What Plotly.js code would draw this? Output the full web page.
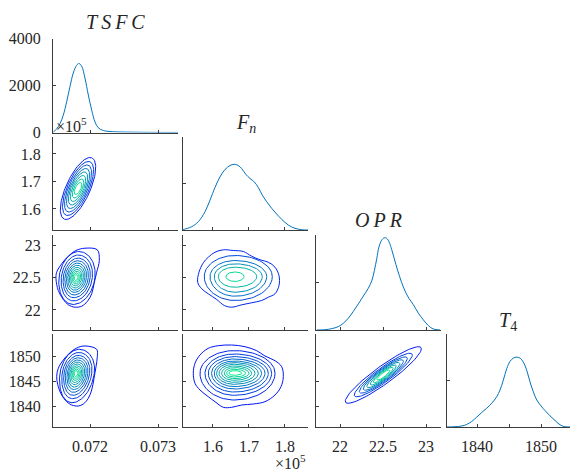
<!DOCTYPE html>
<html><head><meta charset="utf-8">
<script src="https://cdn.plot.ly/plotly-3.0.1.min.js"></script>
<style>html,body{margin:0;padding:0;background:#fff}#chart{width:570px;height:473px}</style>
</head><body><div id="chart"></div>
<script>
// ---------- variable ranges and ticks ----------
const tsfcRange = [0.071456, 0.073294];
const fnRange = [1.5167, 1.8639];
const fnRowRange = [1.5236, 1.8618];
const oprRange = [21.721, 23.174];
const oprRowRange = [21.692, 23.154];
const t4Range = [1835.31, 1854.53];
const t4RowRange = [1835.8, 1854.4];
const densTsfcRange = [0, 4000];
const densRange = [0, 2];

const tsfcTicks = [0.072, 0.073], tsfcTickText = ['0.072', '0.073'];
const fnTicks = [1.6, 1.7, 1.8], fnTickText = ['1.6', '1.7', '1.8'];
const oprTicks = [22, 22.5, 23], oprTickText = ['22', '22.5', '23'];
const t4Ticks = [1840, 1845, 1850], t4TickText = ['1840', '1845', '1850'];
const t4DiagTicks = [1840, 1850], t4DiagTickText = ['1840', '1850'];
const t4DiagMinorTicks = [1845];
const densTsfcTicks = [0, 2000, 4000], densTsfcTickText = ['0', '2000', '4000'];
const densTicks = [0, 1, 2], densTickText = ['0', '1', '2'];

// ---------- marginal densities ----------
const tsfcKdeX = [0.071456, 0.071460, 0.071510, 0.071559, 0.071607, 0.071657, 0.071706, 0.071754, 0.071804, 0.071838, 0.071878, 0.071926, 0.071975, 0.072025, 0.072074, 0.072122, 0.072196, 0.072294, 0.072637, 0.073294];
const tsfcKdeY = [10, 13, 158, 374, 733, 1309, 1956, 2532, 2863, 2934, 2820, 2316, 1597, 950, 446, 201, 86, 43, 13, 2];

const fnKdeX = [1.5167, 1.5203, 1.5408, 1.5592, 1.5778, 1.5917, 1.6056, 1.6194, 1.6333, 1.6472, 1.6592, 1.6703, 1.6797, 1.6908, 1.7028, 1.7147, 1.7258, 1.7369, 1.7492, 1.7631, 1.7769, 1.7908, 1.8092, 1.8278, 1.8464, 1.8639];
const fnKdeY = [0.008, 0.015, 0.071, 0.178, 0.392, 0.643, 0.915, 1.142, 1.30, 1.386, 1.414, 1.386, 1.322, 1.20, 1.108, 1.035, 0.915, 0.75, 0.607, 0.465, 0.343, 0.229, 0.107, 0.036, 0.006, 0.0];

const oprKdeX = [21.729, 21.826, 21.903, 21.980, 22.038, 22.097, 22.155, 22.213, 22.271, 22.329, 22.369, 22.399, 22.427, 22.453, 22.485, 22.515, 22.543, 22.570, 22.601, 22.631, 22.671, 22.717, 22.756, 22.802, 22.852, 22.910, 22.969, 23.027, 23.085, 23.163];
const oprKdeY = [0.0, 0.006, 0.028, 0.071, 0.141, 0.249, 0.392, 0.549, 0.714, 0.879, 1.035, 1.249, 1.50, 1.749, 1.892, 1.941, 1.929, 1.856, 1.693, 1.50, 1.249, 0.999, 0.821, 0.664, 0.536, 0.356, 0.214, 0.092, 0.021, 0.0];

const t4KdeX = [1835.31, 1836.56, 1837.61, 1838.39, 1839.17, 1839.95, 1840.73, 1841.52, 1842.30, 1843.08, 1843.59, 1844.11, 1844.64, 1845.16, 1845.67, 1846.20, 1846.72, 1847.23, 1847.77, 1848.28, 1848.80, 1849.33, 1850.0, 1850.63, 1851.41, 1852.19, 1852.81, 1853.48, 1854.53];
const t4KdeY = [0.0, 0.006, 0.021, 0.055, 0.119, 0.213, 0.311, 0.404, 0.511, 0.651, 0.794, 1.006, 1.255, 1.411, 1.481, 1.502, 1.481, 1.396, 1.219, 0.970, 0.757, 0.581, 0.453, 0.353, 0.240, 0.140, 0.064, 0.013, 0.0];

// ---------- joint density contours (outer contours traced, inner contours as centre + extents) ----------
// TSFC vs Fn (x1e5)
const tsfcFnCenter = [0.071824, 1.6746];
const tsfcFnHalfX = [0.000191, 0.000169, 0.000147, 0.000126, 0.000106, 0.0000853, 0.0000647, 0.0000441];
const tsfcFnHalfY = [0.1127, 0.0982, 0.0855, 0.0727, 0.0600, 0.0473, 0.0345, 0.0218];
const tsfcFnShear = 0.001566;

// TSFC vs OPR
const tsfcOprOuterX = [0.0719265, 0.0721074, 0.0721368, 0.0720985, 0.0720588, 0.0720250, 0.0719603, 0.0718779, 0.0717794, 0.0716809, 0.0716074, 0.0715338, 0.0715000, 0.0715103, 0.0715838, 0.0716809, 0.0717941];
const tsfcOprOuterY = [22.9508, 22.9262, 22.7615, 22.5815, 22.4031, 22.2492, 22.1308, 22.0585, 22.0431, 22.0800, 22.1615, 22.3000, 22.4800, 22.5815, 22.7108, 22.8277, 22.9154];
const tsfcOprCenter = [0.071794, 22.5];
const tsfcOprLeft = [0.000250, 0.000216, 0.000187, 0.000162, 0.000138, 0.000118, 0.0000971, 0.0000779, 0.0000603, 0.0000441, 0.0000279];
const tsfcOprRight = [0.000279, 0.000241, 0.000209, 0.000181, 0.000154, 0.000131, 0.000109, 0.0000868, 0.0000676, 0.0000485, 0.0000309];
const tsfcOprUp = [0.400, 0.346, 0.298, 0.258, 0.222, 0.188, 0.155, 0.125, 0.097, 0.071, 0.045];
const tsfcOprDown = [0.415, 0.360, 0.311, 0.269, 0.229, 0.195, 0.162, 0.129, 0.100, 0.074, 0.046];
const tsfcOprShear = 0.0001;

// TSFC vs T4
const tsfcT4OuterX = [0.0719412, 0.0720985, 0.0721074, 0.0720882, 0.0720588, 0.0720250, 0.0719750, 0.0719015, 0.0718279, 0.0717309, 0.0716574, 0.0715838, 0.0715338, 0.0715103, 0.0715338, 0.0716074, 0.0717059, 0.0718279];
const tsfcT4OuterY = [1852.0, 1851.34, 1849.86, 1847.86, 1845.54, 1843.2, 1841.54, 1840.4, 1840.0, 1840.2, 1840.86, 1842.2, 1843.86, 1845.86, 1847.54, 1849.2, 1850.66, 1851.74];
const tsfcT4Center = [0.071794, 1846.54];
const tsfcT4Left = [0.000235, 0.000203, 0.000176, 0.000153, 0.000129, 0.000110, 0.0000912, 0.0000735, 0.0000574, 0.0000412, 0.0000265];
const tsfcT4Right = [0.000269, 0.000232, 0.000201, 0.000174, 0.000149, 0.000126, 0.000104, 0.0000838, 0.0000647, 0.0000471, 0.0000294];
const tsfcT4Up = [4.8, 4.16, 3.58, 3.1, 2.66, 2.26, 1.86, 1.5, 1.16, 0.84, 0.54];
const tsfcT4Down = [5.88, 5.08, 4.4, 3.8, 3.26, 2.76, 2.28, 1.84, 1.42, 1.04, 0.66];
const tsfcT4Shear = 0.00001;

// Fn vs OPR
const fnOprOuterX = [1.6286, 1.6564, 1.6842, 1.7075, 1.7306, 1.7536, 1.7722, 1.7833, 1.7833, 1.7722, 1.7536, 1.7353, 1.7075, 1.6797, 1.6519, 1.6314, 1.6103, 1.5869, 1.5686, 1.5575, 1.5611, 1.5731, 1.5869, 1.6056];
const fnOprOuterY = [22.9262, 22.9154, 22.9, 22.8277, 22.7723, 22.7354, 22.6585, 22.5308, 22.3769, 22.2492, 22.1969, 22.1462, 22.1108, 22.08, 22.0431, 22.0692, 22.1615, 22.2492, 22.3262, 22.4277, 22.5815, 22.7262, 22.8123, 22.8892];
const fnOprCenter = [1.6611, 22.5154];
const fnOprLeft = [0.0853, 0.0694, 0.0575, 0.0464, 0.025];
const fnOprRight = [0.1036, 0.0881, 0.0758, 0.0603, 0.025];
const fnOprUp = [0.323, 0.246, 0.195, 0.143, 0.069];
const fnOprDown = [0.369, 0.303, 0.242, 0.165, 0.077];

// Fn vs T4
const fnT4OuterX = [1.6519, 1.6889, 1.7214, 1.7444, 1.7722, 1.7908, 1.7953, 1.7889, 1.7722, 1.7444, 1.7119, 1.6797, 1.6519, 1.6286, 1.6056, 1.5869, 1.5639, 1.55, 1.5453, 1.55, 1.5639, 1.5869, 1.6147];
const fnT4OuterY = [1852.2, 1851.86, 1851.06, 1850.0, 1849.06, 1847.86, 1845.86, 1843.86, 1842.2, 1840.86, 1840.4, 1840.2, 1839.74, 1839.74, 1840.86, 1841.86, 1843.2, 1844.54, 1846.54, 1848.54, 1850.2, 1851.54, 1852.06];
const fnT4Center = [1.6592, 1846.54];
const fnT4Left = [0.0953, 0.0814, 0.0722, 0.0631, 0.0556, 0.0492, 0.0425, 0.0353, 0.0278, 0.0214, 0.0147];
const fnT4Right = [0.1131, 0.1036, 0.0944, 0.0853, 0.0758, 0.0667, 0.0575, 0.0481, 0.0408, 0.0314, 0.0203];
const fnT4Up = [4.54, 3.86, 3.34, 2.86, 2.46, 2.14, 1.8, 1.46, 1.14, 0.8, 0.54];
const fnT4Down = [5.34, 4.4, 3.74, 3.14, 2.66, 2.2, 1.8, 1.4, 1.06, 0.74, 0.4];

// OPR vs T4
const oprT4Center = [22.5035, 1846.2];
const oprT4HalfX = [0.442, 0.337, 0.279, 0.233, 0.192, 0.151, 0.116, 0.0756];
const oprT4HalfY = [2.16, 1.76, 1.5, 1.3, 1.1, 0.9, 0.7, 0.5];
const oprT4Slope = 11.83;

// ---------- drawing ----------
const KDE_COLOR = '#0072BD';
const AX_COLOR = '#3c3c3c';
const TXT_COLOR = '#262626';
const SERIF = 'Liberation Serif, Times New Roman, serif';

function winter(t) {
  return 'rgb(0,' + Math.round(255 * t) + ',' + Math.round(255 * (1 - t / 2)) + ')';
}
function ringPath(c, L, R, T, B, sx, sy) {
  const xs = [], ys = [];
  const n = 96;
  for (let i = 0; i <= n; i++) {
    const a = i / n * 2 * Math.PI;
    const u = Math.cos(a), v = Math.sin(a);
    const dx = u >= 0 ? R * u : L * u;
    const dy = v >= 0 ? T * v : B * v;
    xs.push(c[0] + dx + sx * dy);
    ys.push(c[1] + dy + sy * dx);
  }
  return [xs, ys];
}
const traces = [];
function ax(p, k) { return p === 1 ? k : k + p; }
function addLine(p, xs, ys, color, spline) {
  traces.push({type: 'scatter', mode: 'lines', x: xs, y: ys, xaxis: ax(p, 'x'), yaxis: ax(p, 'y'),
    line: {color: color, width: 1, shape: spline ? 'spline' : 'linear', smoothing: 1}, hoverinfo: 'skip'});
}
function closeArr(a) { return a.concat([a[0]]); }

// diagonal densities
addLine(1, tsfcKdeX, tsfcKdeY, KDE_COLOR, true);
addLine(3, fnKdeX, fnKdeY, KDE_COLOR, true);
addLine(6, oprKdeX, oprKdeY, KDE_COLOR, true);
addLine(10, t4KdeX, t4KdeY, KDE_COLOR, true);

// contour panels
function addRings(p, outer, c, Ls, Rs, Ts, Bs, sx, sy) {
  const total = Ls.length + (outer ? 1 : 0);
  let k = 0;
  if (outer) {
    addLine(p, closeArr(outer[0]), closeArr(outer[1]), winter(1 / (total + 1)), true);
    k = 1;
  }
  for (let i = 0; i < Ls.length; i++, k++) {
    const r = ringPath(c, Ls[i], Rs[i], Ts[i], Bs[i], sx, sy);
    addLine(p, r[0], r[1], winter((k + 1) / (total + 1)), false);
  }
}
addRings(2, null, tsfcFnCenter, tsfcFnHalfX, tsfcFnHalfX, tsfcFnHalfY, tsfcFnHalfY, tsfcFnShear, 0);
addRings(4, [tsfcOprOuterX, tsfcOprOuterY], tsfcOprCenter, tsfcOprLeft, tsfcOprRight, tsfcOprUp, tsfcOprDown, tsfcOprShear, 0);
addRings(7, [tsfcT4OuterX, tsfcT4OuterY], tsfcT4Center, tsfcT4Left, tsfcT4Right, tsfcT4Up, tsfcT4Down, tsfcT4Shear, 0);
addRings(5, [fnOprOuterX, fnOprOuterY], fnOprCenter, fnOprLeft, fnOprRight, fnOprUp, fnOprDown, 0, 0);
addRings(8, [fnT4OuterX, fnT4OuterY], fnT4Center, fnT4Left, fnT4Right, fnT4Up, fnT4Down, 0, 0);
addRings(9, null, oprT4Center, oprT4HalfX, oprT4HalfX, oprT4HalfY, oprT4HalfY, 0, oprT4Slope);

// layout
const W = 570, H = 473;
const colPx = [[53, 178], [183, 308], [316, 441], [447, 570]];
const rowPx = [[38.5, 132.5], [137, 230], [235, 330], [334, 427]];
const colDom = colPx.map(c => [c[0] / W, c[1] / W]);
const rowDom = rowPx.map(r => [1 - r[1] / H, 1 - r[0] / H]);

const xSpec = [
  {range: tsfcRange, tv: tsfcTicks, tt: tsfcTickText},
  {range: fnRange, tv: fnTicks, tt: fnTickText},
  {range: oprRange, tv: oprTicks, tt: oprTickText},
  {range: t4Range, tv: t4DiagTicks, tt: t4DiagTickText, minor: t4DiagMinorTicks}
];
const ySpec = [
  null,
  {range: fnRowRange, tv: fnTicks, tt: fnTickText},
  {range: oprRowRange, tv: oprTicks, tt: oprTickText},
  {range: t4RowRange, tv: t4Ticks, tt: t4TickText}
];
const panels = [
  [1, 0, 0], [2, 1, 0], [3, 1, 1], [4, 2, 0], [5, 2, 1], [6, 2, 2], [7, 3, 0], [8, 3, 1], [9, 3, 2], [10, 3, 3]
];
const layout = {
  width: W, height: H, margin: {l: 0, r: 0, t: 0, b: 0},
  paper_bgcolor: '#ffffff', plot_bgcolor: 'rgba(0,0,0,0)', showlegend: false,
  font: {family: SERIF, size: 16, color: TXT_COLOR},
  annotations: []
};
const baseAxis = {
  showline: true, linecolor: AX_COLOR, linewidth: 1, ticks: 'inside', ticklen: 3,
  tickcolor: AX_COLOR, tickwidth: 1, showgrid: false, zeroline: false, fixedrange: true,
  tickmode: 'array', tickfont: {family: SERIF, size: 16, color: TXT_COLOR}
};
panels.forEach(([p, r, c]) => {
  const xs = xSpec[c];
  const xa = Object.assign({}, baseAxis, {
    domain: colDom[c], range: xs.range, tickvals: xs.tv, ticktext: xs.tt,
    anchor: ax(p, 'y'), showticklabels: r === 3, ticklabelstandoff: 5
  });
  if (xs.minor && r === c) {
    xa.minor = {tickmode: 'array', tickvals: xs.minor, ticks: 'inside', ticklen: 3, tickcolor: AX_COLOR, tickwidth: 1, showgrid: false};
  } else if (c === 3) {
    xa.tickvals = t4Ticks; xa.ticktext = t4TickText;
  }
  let ya;
  if (r === c) {
    const isFirst = r === 0;
    ya = Object.assign({}, baseAxis, {
      domain: rowDom[r], range: isFirst ? densTsfcRange : densRange,
      tickvals: isFirst ? densTsfcTicks : densTicks,
      ticktext: isFirst ? densTsfcTickText : densTickText,
      anchor: ax(p, 'x'), showticklabels: isFirst, ticklabelstandoff: 8
    });
  } else {
    const ys = ySpec[r];
    ya = Object.assign({}, baseAxis, {
      domain: rowDom[r], range: ys.range, tickvals: ys.tv, ticktext: ys.tt,
      anchor: ax(p, 'x'), showticklabels: c === 0, ticklabelstandoff: 8
    });
  }
  layout[p === 1 ? 'xaxis' : 'xaxis' + p] = xa;
  layout[p === 1 ? 'yaxis' : 'yaxis' + p] = ya;
});

function note(text, xpx, ypx, size, xanchor) {
  layout.annotations.push({
    text: text, xref: 'paper', yref: 'paper', x: xpx / W, y: 1 - ypx / H,
    xanchor: xanchor || 'center', yanchor: 'middle', showarrow: false,
    font: {family: SERIF, size: size, color: TXT_COLOR}
  });
}
note('<i>T\u2009S\u2009F\u2009C</i>', 115, 22, 20);
note('<i>F</i><sub><i>n</i></sub>', 246, 123, 20);
note('<i>O\u2009P\u2009R</i>', 378, 220, 20);
note('<i>T</i><sub>4</sub>', 508, 321, 20);
note('\u00d710<sup>5</sup>', 54, 125, 16, 'left');
note('\u00d710<sup>5</sup>', 308, 462, 16, 'right');

Plotly.newPlot('chart', traces, layout, {staticPlot: true, displayModeBar: false});
</script></body></html>
